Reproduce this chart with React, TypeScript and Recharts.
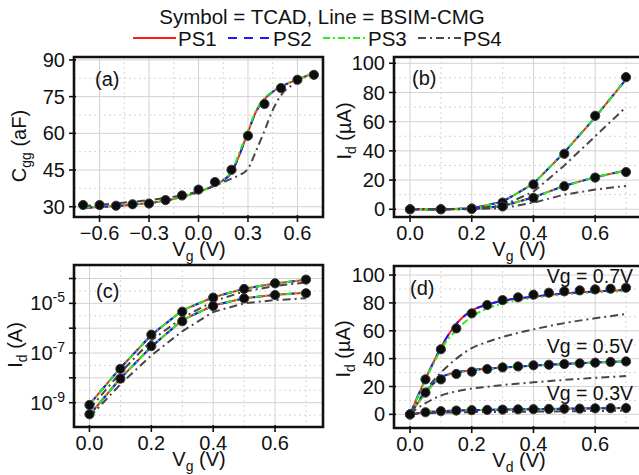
import React from "react";
import { ComposedChart, Line, Scatter, XAxis, YAxis, CartesianGrid } from "recharts";

const FONT = "'Liberation Sans', Arial, Helvetica, sans-serif";
const INK = "#111111";
const FRAME_COLOR = "#111111";
const TICK_SIZE = 5;
const TICK_MARGIN = 4;
const Y_AXIS_W = 64;
const X_AXIS_H = 30;

// line styles for the four BSIM-CMG parameter sets
const SERIES = [
  { name: "PS1", color: "#ff1a1a", dash: undefined as string | undefined },
  { name: "PS2", color: "#1a1aff", dash: "9 7" },
  { name: "PS3", color: "#22ee22", dash: "7 3 2 3" },
  { name: "PS4", color: "#474747", dash: "8 4 2 4" },
];

// (a) Cgg vs Vg
const VG_CV_TCAD = [-0.7, -0.6, -0.5, -0.4, -0.3, -0.2, -0.1, 0, 0.1, 0.2, 0.3, 0.4, 0.5, 0.6, 0.7];
const CGG_TCAD = [30.7, 30.7, 30.4, 31.0, 31.3, 32.7, 34.6, 37.0, 40.1, 45.1, 59.0, 72.0, 78.5, 81.9, 83.9];
const VG_CV_BSIM = [-0.7, -0.6, -0.5, -0.4, -0.3, -0.2, -0.1, 0, 0.1, 0.15, 0.2, 0.25, 0.3, 0.35, 0.4, 0.45, 0.5, 0.6, 0.7];
const CGG_PS1 = [29.5, 29.9, 30.3, 30.8, 31.5, 32.5, 34.0, 36.0, 38.8, 40.8, 44.0, 51.5, 60.5, 69.0, 74.0, 77.0, 79.0, 82.0, 84.5];
const CGG_PS2 = CGG_PS1; // PS2 sits on PS1
const CGG_PS3 = [29.6, 30.0, 30.4, 30.9, 31.6, 32.6, 34.1, 36.1, 38.9, 41.0, 44.5, 52.5, 61.0, 69.5, 74.3, 77.2, 79.2, 82.2, 84.6];
const CGG_PS4 = [30.3, 30.8, 31.4, 32.0, 32.7, 33.6, 34.7, 36.3, 38.6, 40.0, 41.5, 43.0, 45.5, 53.0, 61.0, 69.5, 75.5, 81.0, 85.5];

// (b)/(c) Id vs Vg, in uA (upper set Vd = 0.7 V, lower set Vd = 0.05 V)
const VG_IV = [0, 0.1, 0.2, 0.3, 0.4, 0.5, 0.6, 0.7];
const ID_TCAD_HI = [0.00081, 0.023, 0.55, 4.6, 17.0, 38.0, 64.0, 90.5];
const ID_TCAD_LO = [0.00034, 0.0093, 0.19, 1.9, 7.8, 15.8, 21.7, 25.5];
const ID_BSIM_HI = [0.00085, 0.025, 0.53, 5.2, 17.5, 39.0, 63.0, 89.0];
const ID_BSIM_LO = [0.00032, 0.0095, 0.18, 2.1, 8.2, 16.0, 22.0, 26.5];
const ID_PS4_HI = [0.00055, 0.016, 0.32, 2.6, 12.0, 30.0, 50.0, 70.0];
const ID_PS4_LO = [0.00026, 0.0055, 0.08, 0.75, 4.5, 10.0, 13.5, 16.0];

// (d) Id vs Vd, in uA
const VD_TCAD = [0, 0.05, 0.1, 0.15, 0.2, 0.25, 0.3, 0.35, 0.4, 0.45, 0.5, 0.55, 0.6, 0.65, 0.7];
const ID_TCAD_07 = [0, 25.1, 46.7, 61.7, 72.5, 78.5, 82.0, 84.0, 85.9, 87.3, 88.3, 89.0, 89.7, 90.2, 90.9];
const ID_TCAD_05 = [0, 15.6, 25.1, 29.0, 30.6, 32.5, 33.7, 34.4, 35.2, 35.6, 36.1, 36.6, 37.1, 37.6, 38.0];
const ID_TCAD_03 = [0, 1.5, 2.3, 2.7, 3.0, 3.2, 3.4, 3.6, 3.7, 3.9, 4.0, 4.1, 4.3, 4.4, 4.5];
const VD_BSIM = [0, 0.025, 0.05, 0.075, 0.1, 0.15, 0.2, 0.25, 0.3, 0.4, 0.5, 0.6, 0.7];
const ID_PS1_07 = [0, 13.0, 25.5, 37.0, 48.0, 65.0, 74.5, 78.8, 81.5, 84.5, 86.7, 88.2, 89.3];
const ID_PS3_07 = [0, 12.5, 25.0, 36.0, 46.5, 60.5, 70.0, 76.0, 79.5, 83.5, 86.0, 87.5, 88.5];
const ID_PS4_07 = [0, 9.0, 17.0, 24.0, 30.0, 40.0, 47.5, 52.0, 55.5, 61.0, 65.5, 69.0, 72.0];
const ID_PS1_05 = [0, 8.0, 15.5, 22.0, 26.5, 30.0, 31.8, 32.8, 33.6, 35.0, 36.2, 37.2, 38.0];
const ID_PS3_05 = [0, 8.0, 15.3, 21.5, 26.0, 29.5, 31.5, 32.6, 33.5, 35.0, 36.2, 37.2, 38.0];
const ID_PS4_05 = [0, 4.5, 8.0, 11.0, 13.5, 16.5, 18.5, 19.8, 21.0, 23.0, 24.7, 26.2, 27.5];
const ID_PS1_03 = [0, 0.8, 1.5, 1.9, 2.2, 2.7, 3.0, 3.2, 3.4, 3.7, 4.0, 4.3, 4.6];
const ID_PS4_03 = [0, 0.4, 0.8, 1.0, 1.2, 1.4, 1.6, 1.7, 1.8, 2.0, 2.2, 2.4, 2.6];

// ticks and minor grid values
const A_XTICKS = [-0.6, -0.3, 0, 0.3, 0.6];
const A_XMINOR = [-0.45, -0.15, 0.15, 0.45];
const A_YTICKS = [30, 45, 60, 75, 90];
const A_YMINOR = [37.5, 52.5, 67.5, 82.5];
const V_TICKS = [0, 0.2, 0.4, 0.6];
const V_MINOR = [0.1, 0.3, 0.5, 0.7];
const I_TICKS = [0, 20, 40, 60, 80, 100];
const I_MINOR = [10, 30, 50, 70, 90];
const LOG_TICKS = [1e-10, 1e-9, 1e-8, 1e-7, 1e-6, 1e-5, 1e-4];
const LOG_MINOR = [3.16e-10, 3.16e-9, 3.16e-8, 3.16e-7, 3.16e-6, 3.16e-5, 3.16e-4];

type Pt = { x: number; y: number };
const pts = (xs: number[], ys: number[], k = 1): Pt[] => xs.map((x, i) => ({ x, y: ys[i] * k }));

const fmtV = (v: number) => (v < 0 ? "\u2212" + Math.abs(v).toFixed(1) : v.toFixed(1));

const TcadDot = (props: any) => {
  if (props.cx == null || props.cy == null) return <g />;
  return <circle cx={props.cx} cy={props.cy} r={4.6} fill="#0d0d0d" stroke="#3a3a3a" strokeWidth={1} />;
};

// ticks draw their own outward tick mark next to the label
const BottomTick = (props: any) => {
  const { x, y, payload } = props;
  return (
    <g>
      <path d={`M${x},${y - TICK_MARGIN - TICK_SIZE - 2}V${y - TICK_MARGIN}`} stroke={FRAME_COLOR} strokeWidth={1.6} fill="none" />
      <text x={x} y={y} dy="0.71em" textAnchor="middle" fontSize={20} fontFamily={FONT} fill={INK}>{fmtV(payload.value)}</text>
    </g>
  );
};

const LeftTick = (props: any) => {
  const { x, y, payload } = props;
  return (
    <g>
      <path d={`M${x + TICK_MARGIN},${y}H${x + TICK_MARGIN + TICK_SIZE + 2}`} stroke={FRAME_COLOR} strokeWidth={1.6} fill="none" />
      <text x={x} y={y} dy="0.355em" textAnchor="end" fontSize={20} fontFamily={FONT} fill={INK}>{String(payload.value)}</text>
    </g>
  );
};

const LogTick = (props: any) => {
  const { x, y, payload } = props;
  const e = Math.round(Math.log10(payload.value));
  const edge = e <= -10;
  return (
    <g>
      {!edge && <path d={`M${x + TICK_MARGIN},${y}H${x + TICK_MARGIN + TICK_SIZE + 2}`} stroke={FRAME_COLOR} strokeWidth={1.6} fill="none" />}
      {e % 2 !== 0 && (
        <text x={x} y={y} dy="0.355em" textAnchor="end" fontSize={20} fontFamily={FONT} fill={INK}>
          10<tspan dy={-8} fontSize={14}>{e}</tspan>
        </text>
      )}
    </g>
  );
};

type Curve = { k: number; data: Pt[] };
type Box = { left: number; top: number; width: number; height: number; margin: { top: number; right: number; bottom: number; left: number } };

// plot rectangle of a panel, in page pixels
const plotRect = (b: Box) => ({
  x: b.left + b.margin.left + Y_AXIS_W,
  y: b.top + b.margin.top,
  w: b.width - b.margin.left - b.margin.right - Y_AXIS_W,
  h: b.height - b.margin.top - b.margin.bottom - X_AXIS_H,
});

interface PanelProps {
  box: Box;
  xDomain: [number, number]; yDomain: [number, number];
  xTicks: number[]; xMinor: number[];
  yTicks: number[]; yMinor: number[];
  yLog?: boolean;
  tcad: Pt[][]; curves: Curve[];
  smooth?: boolean;
}

function Panel(p: PanelProps) {
  const b = p.box;
  return (
    <div style={{ position: "absolute", left: b.left, top: b.top }}>
      <ComposedChart width={b.width} height={b.height} margin={b.margin}>
        <CartesianGrid stroke="#d2d2d2" strokeWidth={1} />
        <CartesianGrid
          stroke="#d4d4d4" strokeWidth={1} strokeDasharray="2 3"
          horizontalValues={p.yMinor} verticalValues={p.xMinor}
        />
        <XAxis
          type="number" dataKey="x" domain={p.xDomain} ticks={p.xTicks} allowDataOverflow interval={0}
          tick={<BottomTick />} tickSize={TICK_SIZE} tickMargin={TICK_MARGIN}
          axisLine={false} tickLine={false} height={X_AXIS_H}
        />
        <YAxis
          type="number" scale={p.yLog ? "log" : "auto"} domain={p.yDomain} ticks={p.yTicks} allowDataOverflow
          interval={0} width={Y_AXIS_W}
          tick={p.yLog ? <LogTick /> : <LeftTick />} tickSize={TICK_SIZE} tickMargin={TICK_MARGIN}
          axisLine={false} tickLine={false}
        />
        {p.tcad.map((d, i) => (
          <Scatter key={"t" + i} data={d} dataKey="y" shape={<TcadDot />} isAnimationActive={false} />
        ))}
        {p.curves.map((c, i) => (
          <Line
            key={"c" + i} data={c.data} dataKey="y" type={p.smooth ? "monotone" : "linear"}
            stroke={SERIES[c.k].color} strokeWidth={2} strokeDasharray={SERIES[c.k].dash}
            dot={false} activeDot={false} isAnimationActive={false}
          />
        ))}
      </ComposedChart>
    </div>
  );
}

// axis title with a subscript, e.g. V_g (V)
function Title(props: { x: number; y: number; main: string; sub: string; unit: string; rotate?: boolean }) {
  const { x, y, main, sub, unit, rotate } = props;
  return (
    <text
      transform={`translate(${x},${y})${rotate ? " rotate(-90)" : ""}`}
      textAnchor="middle" fontSize={20} fontFamily={FONT} fill={INK}
    >
      {main}<tspan dy={5} fontSize={14}>{sub}</tspan><tspan dy={-5}>{" " + unit}</tspan>
    </text>
  );
}

const BOX_A: Box = { left: 0, top: 0, width: 335, height: 265, margin: { top: 57, right: 12, bottom: 18, left: 10 } };
const BOX_B: Box = { left: 320, top: 0, width: 340, height: 265, margin: { top: 57, right: 17, bottom: 18, left: 10 } };
const BOX_C: Box = { left: 0, top: 210, width: 335, height: 265, margin: { top: 55, right: 12, bottom: 18, left: 10 } };
const BOX_D: Box = { left: 320, top: 210, width: 340, height: 265, margin: { top: 56, right: 17, bottom: 17, left: 10 } };

export default function App() {
  const cvCurves: Curve[] = [
    { k: 0, data: pts(VG_CV_BSIM, CGG_PS1) },
    { k: 1, data: pts(VG_CV_BSIM, CGG_PS2) },
    { k: 2, data: pts(VG_CV_BSIM, CGG_PS3) },
    { k: 3, data: pts(VG_CV_BSIM, CGG_PS4) },
  ];
  const idvg = (scale: number): Curve[] => [
    { k: 0, data: pts(VG_IV, ID_BSIM_HI, scale) }, { k: 0, data: pts(VG_IV, ID_BSIM_LO, scale) },
    { k: 1, data: pts(VG_IV, ID_BSIM_HI, scale) }, { k: 1, data: pts(VG_IV, ID_BSIM_LO, scale) },
    { k: 2, data: pts(VG_IV, ID_BSIM_HI, scale) }, { k: 2, data: pts(VG_IV, ID_BSIM_LO, scale) },
    { k: 3, data: pts(VG_IV, ID_PS4_HI, scale) }, { k: 3, data: pts(VG_IV, ID_PS4_LO, scale) },
  ];
  const idvd: Curve[] = [
    { k: 0, data: pts(VD_BSIM, ID_PS1_07) }, { k: 0, data: pts(VD_BSIM, ID_PS1_05) }, { k: 0, data: pts(VD_BSIM, ID_PS1_03) },
    { k: 1, data: pts(VD_BSIM, ID_PS1_07) }, { k: 1, data: pts(VD_BSIM, ID_PS1_05) }, { k: 1, data: pts(VD_BSIM, ID_PS1_03) },
    { k: 2, data: pts(VD_BSIM, ID_PS3_07) }, { k: 2, data: pts(VD_BSIM, ID_PS3_05) }, { k: 2, data: pts(VD_BSIM, ID_PS1_03) },
    { k: 3, data: pts(VD_BSIM, ID_PS4_07) }, { k: 3, data: pts(VD_BSIM, ID_PS4_05) }, { k: 3, data: pts(VD_BSIM, ID_PS4_03) },
  ];

  const txt = { fontFamily: FONT, fill: INK } as const;
  const MICRO_A = "(\u00b5A)";

  return (
    <div style={{ position: "absolute", left: 0, top: 0, width: 639, height: 475, overflow: "hidden", background: "#fff" }}>
      <Panel
        box={BOX_A} xDomain={[-0.755, 0.755]} yDomain={[25.8, 91.2]}
        xTicks={A_XTICKS} xMinor={A_XMINOR} yTicks={A_YTICKS} yMinor={A_YMINOR}
        tcad={[pts(VG_CV_TCAD, CGG_TCAD)]} curves={cvCurves} smooth
      />
      <Panel
        box={BOX_B} xDomain={[-0.052, 0.755]} yDomain={[-5.3, 104.3]}
        xTicks={V_TICKS} xMinor={V_MINOR} yTicks={I_TICKS} yMinor={I_MINOR}
        tcad={[pts(VG_IV, ID_TCAD_HI), pts(VG_IV, ID_TCAD_LO)]} curves={idvg(1)}
      />
      <Panel
        box={BOX_C} xDomain={[-0.05, 0.755]} yDomain={[1.05e-10, 3.5e-4]} yLog
        xTicks={V_TICKS} xMinor={V_MINOR} yTicks={LOG_TICKS} yMinor={LOG_MINOR}
        tcad={[pts(VG_IV, ID_TCAD_HI, 1e-6), pts(VG_IV, ID_TCAD_LO, 1e-6)]} curves={idvg(1e-6)}
      />
      <Panel
        box={BOX_D} xDomain={[-0.052, 0.755]} yDomain={[-9.8, 106.5]}
        xTicks={V_TICKS} xMinor={V_MINOR} yTicks={I_TICKS} yMinor={I_MINOR}
        tcad={[pts(VD_TCAD, ID_TCAD_07), pts(VD_TCAD, ID_TCAD_05), pts(VD_TCAD, ID_TCAD_03)]} curves={idvd} smooth
      />

      <svg width={639} height={475} style={{ position: "absolute", left: 0, top: 0, pointerEvents: "none", zIndex: 5 }}>
        {[BOX_A, BOX_B, BOX_C, BOX_D].map((b, i) => {
          const r = plotRect(b);
          return (
            <path
              key={"f" + i}
              d={`M${r.x},${r.y}H${r.x + r.w}V${r.y + r.h}H${r.x}Z`}
              fill="none" stroke={FRAME_COLOR} strokeWidth={2.6}
            />
          );
        })}
        <text x={322} y={24} textAnchor="middle" fontSize={20.5} {...txt}>Symbol = TCAD, Line = BSIM-CMG</text>
        {SERIES.map((s, i) => {
          const x0 = 133 + i * 95;
          return (
            <g key={s.name}>
              <line x1={x0} x2={x0 + 43} y1={38} y2={38} stroke={s.color} strokeWidth={2} strokeDasharray={s.dash} />
              <text x={x0 + 45} y={45.5} fontSize={20.5} {...txt}>{s.name}</text>
            </g>
          );
        })}
        <Title x={199} y={256} main="V" sub="g" unit="(V)" />
        <Title x={519} y={256} main="V" sub="g" unit="(V)" />
        <Title x={199} y={466} main="V" sub="g" unit="(V)" />
        <Title x={519} y={467} main="V" sub="d" unit="(V)" />
        <Title x={26} y={146} main="C" sub="gg" unit="(aF)" rotate />
        <Title x={351} y={131} main="I" sub="d" unit={MICRO_A} rotate />
        <Title x={22} y={345} main="I" sub="d" unit="(A)" rotate />
        <Title x={350} y={349} main="I" sub="d" unit={MICRO_A} rotate />
        <text x={95} y={86} fontSize={20} {...txt}>(a)</text>
        <text x={412} y={85} fontSize={20} {...txt}>(b)</text>
        <text x={96} y={298} fontSize={20} {...txt}>(c)</text>
        <text x={410} y={295} fontSize={20} {...txt}>(d)</text>
        <text x={633} y={283} textAnchor="end" fontSize={19.5} {...txt}>Vg = 0.7V</text>
        <text x={633} y={353} textAnchor="end" fontSize={19.5} {...txt}>Vg = 0.5V</text>
        <text x={633} y={400} textAnchor="end" fontSize={19.5} {...txt}>Vg = 0.3V</text>
      </svg>
    </div>
  );
}
